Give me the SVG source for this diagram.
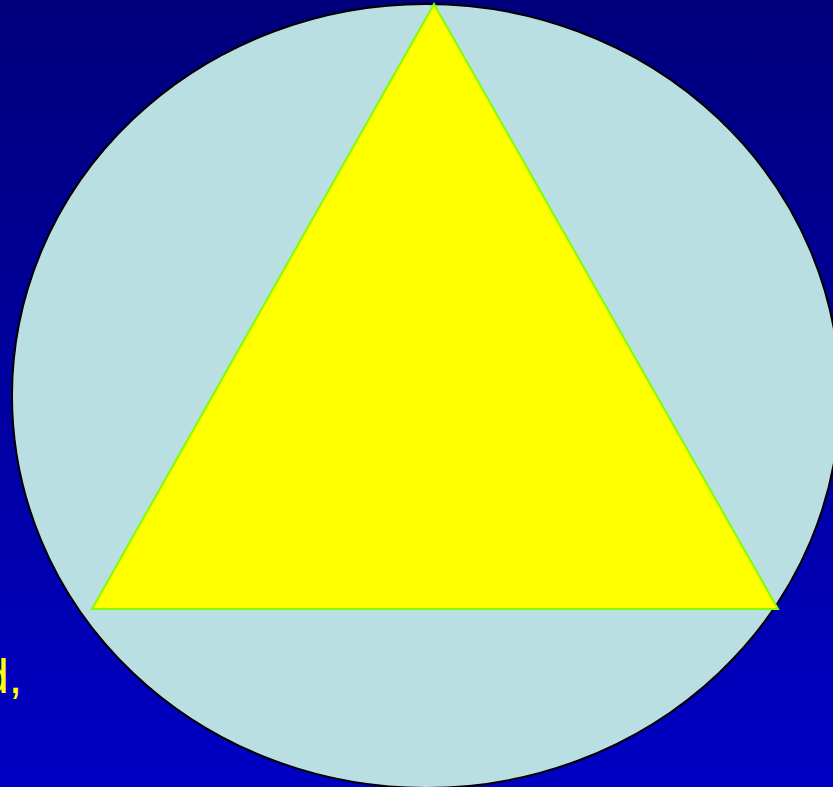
<svg xmlns="http://www.w3.org/2000/svg" width="833" height="787" viewBox="0 0 833 787">
  <defs>
    <linearGradient id="bg" x1="0" y1="0" x2="0" y2="1">
      <stop offset="0" stop-color="#00007C"/>
      <stop offset="1" stop-color="#0000C4"/>
    </linearGradient>
  </defs>
  <style>
    .circle { fill: #B9DFE3; stroke: #000000; stroke-width: 2; }
    .tri { fill: #FFFF00; stroke: #7FFF00; stroke-width: 2; stroke-linejoin: miter; }
    .label { fill: #FFFF00; font-family: "Liberation Sans", Arial, sans-serif; font-size: 48px; }
  </style>
  <rect id="background" x="0" y="0" width="833" height="787" fill="url(#bg)"/>
  <g id="circle">
    <ellipse class="circle" cx="426" cy="396" rx="414" ry="392"/>
  </g>
  <g id="triangle">
    <polygon class="tri" points="434,4 92,609 778,609"/>
  </g>
  <g id="text">
    <text class="label" x="-18" y="693">d,</text>
  </g>
  <g id="connectors"/>
</svg>
